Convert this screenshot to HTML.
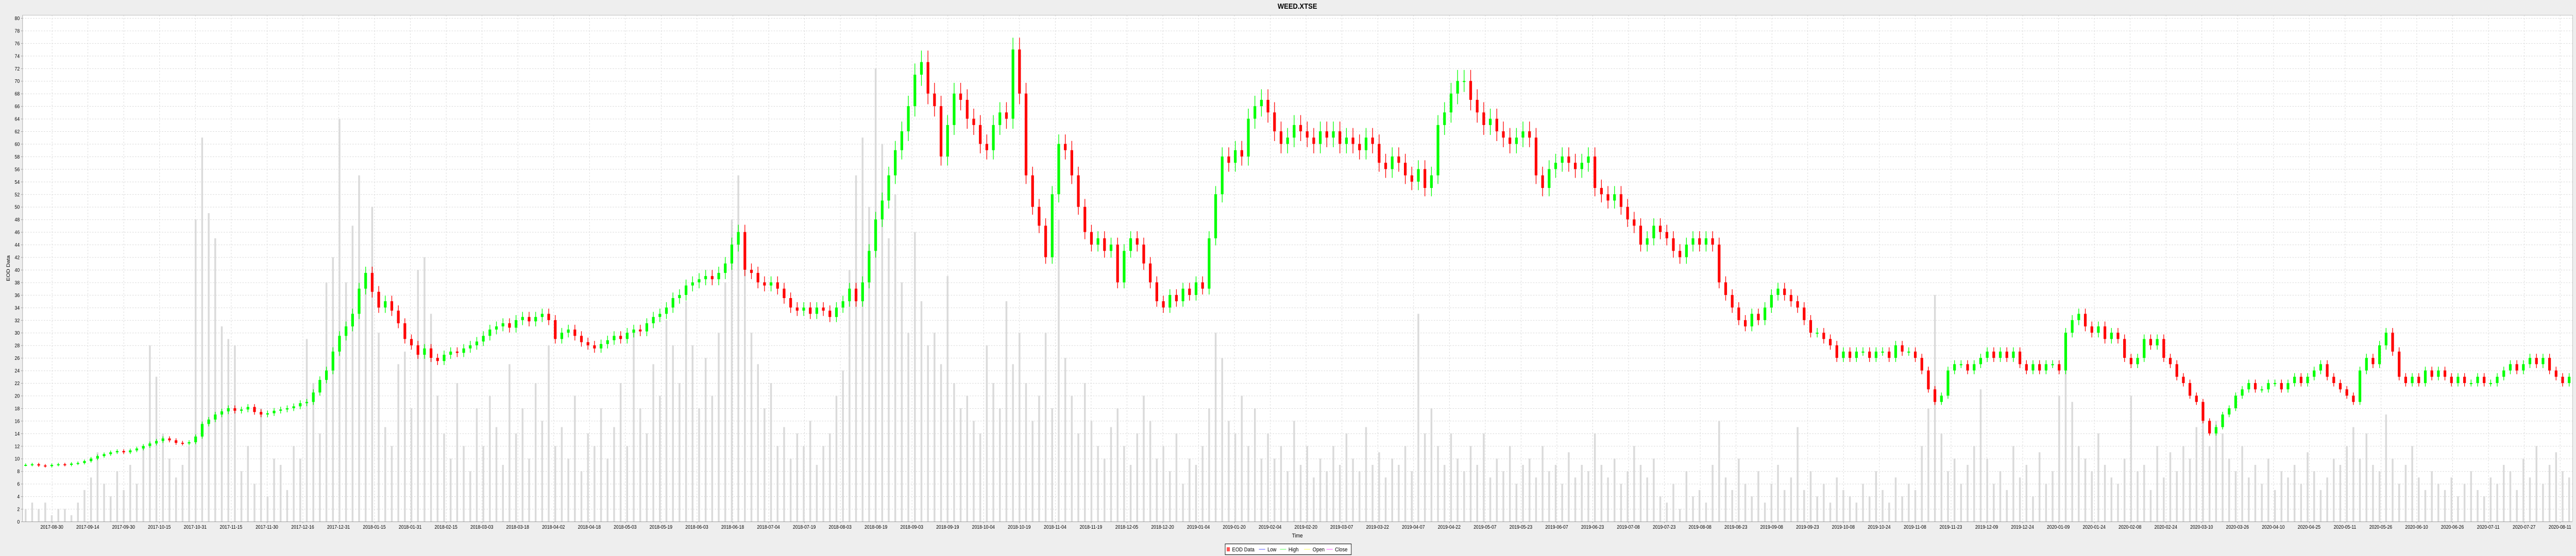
<!DOCTYPE html>
<html><head><meta charset="utf-8"><title>WEED.XTSE</title>
<style>
html,body{margin:0;padding:0;background:#eeeeee;width:100%;height:100%;overflow:hidden;}
body{font-family:"Liberation Sans",Arial,sans-serif;}
svg{display:block;position:absolute;left:0;top:0;width:100vw;height:100vh;}
</style></head>
<body>
<svg id="chart" viewBox="0 0 5760 1080" preserveAspectRatio="none" xmlns="http://www.w3.org/2000/svg">
  <rect x="0" y="0" width="5760" height="1080" fill="#eeeeee"/>
  <text x="2901" y="17" text-anchor="middle" font-size="15" font-weight="bold" fill="#000">WEED.XTSE</text>
  <rect x="50" y="29" width="5702" height="984" fill="#ffffff"/>
  <g id="grid"></g>
  <g id="vol"></g>
  <g id="candles"></g>
  <g id="axes"></g>
  <text x="0" y="0" transform="translate(22,521) rotate(-90)" text-anchor="middle" font-size="11" fill="#000">EOD Data</text>
  <text x="2901" y="1044" text-anchor="middle" font-size="11" fill="#000">Time</text>
  <g>
    <rect x="2739.5" y="1056.5" width="282" height="21" fill="#ffffff" stroke="#000"/>
    <rect x="2743" y="1063" width="7" height="8" fill="#ff5555"/>
    <text x="2755" y="1071" font-size="11">EOD Data</text>
    <line x1="2815" y1="1067" x2="2829" y2="1067" stroke="#5555ff"/>
    <text x="2834" y="1071" font-size="11">Low</text>
    <line x1="2862" y1="1067" x2="2876" y2="1067" stroke="#55ff55"/>
    <text x="2881" y="1071" font-size="11">High</text>
    <line x1="2916" y1="1067" x2="2930" y2="1067" stroke="#ffff55"/>
    <text x="2935" y="1071" font-size="11">Open</text>
    <line x1="2966" y1="1067" x2="2980" y2="1067" stroke="#ff55ff"/>
    <text x="2985" y="1071" font-size="11">Close</text>
  </g>
</svg>
<script>
var closes = [
9.0,9.1,8.9,8.8,9.0,9.1,9.0,9.2,9.3,9.6,
10.0,10.4,10.7,11.0,11.2,11.0,11.3,11.6,12.0,12.4,
12.8,13.2,12.9,12.5,12.4,12.6,13.5,15.5,16.2,17.0,
17.5,18.0,17.6,17.8,18.2,17.4,17.0,17.2,17.6,17.8,
18.0,18.3,18.8,19.0,20.5,22.5,24.0,27.0,29.5,31.0,
33.0,37.0,39.5,36.5,34.0,35.0,33.5,31.5,29.0,28.0,
26.5,27.5,26.0,25.5,26.5,27.0,26.8,27.5,28.0,28.6,
29.5,30.5,31.0,31.5,30.8,32.0,32.5,31.8,32.5,33.0,
32.0,29.0,30.0,30.5,29.5,28.5,28.0,27.5,28.2,28.8,
29.5,29.0,30.0,30.5,30.2,31.5,32.5,33.0,34.0,35.5,
36.0,37.5,38.0,38.5,39.0,38.5,39.5,41.0,44.0,46.0,
40.0,39.5,38.0,37.5,38.0,37.0,35.5,34.0,33.5,34.0,
33,34,33.5,32.5,34,35,37,35,38,43,
48,51,55,59,62,66,71,73,68,66,
58,63,68,67,64,63,60,59,63,65,
64,75,68,55,50,47,42,52,60,59,
55,50,46,44,45,43,44,38,43,45,
44,41,38,35,34,36,35,37,36,38,
37,45,52,58,57,59,58,64,66,67,
65,62,60,61,63,62,61,60,62,61,
62,60,61,60,59,61,60,57,56,58,
57,55,54,56,53,55,63,65,68,70,
70,67,65,63,64,62,61,60,61,62,
61,55,53,56,57,58,57,56,57,58,
53,52,51,52,50,48,47,44,45,47,
46,45,43,42,44,45,44,45,44,38,
36,34,32,31,33,32,34,36,37,36,
35,34,32,30,30,29,28,26,27,26,
27,27,26,27,27,26,28,27,27,26,
24,21,19,20,24,25,25,24,25,26,
27,26,27,26,27,25,24,25,24,25,
25,24,30,32,33,31,30,31,29,30,
29,26,25,26,29,28,29,26,25,23,
22,20,19,16,14,15,17,18,20,21,
22,21,21,22,22,21,22,23,22,23,
24,25,23,22,21,20,19,24,26,25,
28,30,27,23,22,23,22,24,23,24,
23,22,23,22,22,23,22,22,23,24,
25,24,25,26,25,26,24,23,22,23
];
var volumes = [
2,3,2,3,1,2,2,1,3,5,
7,11,6,4,8,5,9,6,12,28,
23,14,10,7,9,12,48,61,49,45,
31,29,28,8,12,6,18,4,10,9,
5,12,10,29,22,14,38,42,64,38,
47,55,38,50,30,15,12,25,27,18,
40,42,33,20,14,10,22,12,8,18,
12,20,15,9,25,14,18,10,22,16,
28,12,15,10,20,8,14,12,18,10,
15,22,12,30,18,14,25,20,32,28,
22,35,28,18,26,20,30,38,48,55,
42,30,25,18,22,12,15,10,14,12,
16,9,12,14,20,24,40,55,61,50,
72,60,45,52,38,30,46,35,28,30,
25,39,22,18,20,16,14,28,22,18,
35,25,30,22,16,20,30,18,48,26,
20,14,22,16,12,10,15,18,12,9,
14,20,16,10,12,8,14,6,10,9,
12,18,30,26,16,14,20,12,18,10,
14,10,12,8,16,9,12,7,10,8,
12,9,14,10,8,15,9,11,7,10,
9,12,8,33,14,18,12,9,14,10,
8,12,9,14,7,10,8,12,6,9,
10,7,12,8,9,6,11,7,9,8,
14,9,7,10,6,8,12,9,7,10,
4,3,6,2,8,4,5,3,9,16,
7,5,10,6,4,8,3,6,9,5,
7,15,5,8,4,6,3,7,5,4,
3,6,4,8,5,3,7,4,6,5,
12,18,36,14,8,10,6,9,12,21,
10,6,8,5,12,7,9,4,11,6,
8,20,25,19,12,10,8,14,9,7,
6,10,20,8,9,5,12,7,11,8,
12,10,15,18,12,16,14,10,8,12,
7,9,6,10,5,8,7,9,6,11,
8,5,7,10,9,12,15,10,14,9,
8,17,10,6,9,12,7,5,8,6,
5,7,4,6,8,5,4,7,6,9,
8,5,10,7,12,6,9,11,8,7
];
var yTicks = [0,2,4,6,8,10,12,14,16,18,20,22,24,26,28,30,32,34,36,38,40,42,44,46,48,50,52,54,56,58,60,62,64,66,68,70,72,74,76,78,80];
var tickStart = "2017-08-30";
var tickLabels = (function(){var out=[];var d0=new Date(tickStart+"T00:00:00Z");for(var k=0;k<=70;k++){var d=new Date(d0.getTime()+Math.round(k*1077/70)*86400000);out.push(d.toISOString().slice(0,10));}return out;})();

var NS="http://www.w3.org/2000/svg";
var L=50,R=5752,T=35,B=1013,TOP=29;
var yMin=0,yMax=80;
function yS(v){return B-(v-yMin)/(yMax-yMin)*(B-T);}
var n=closes.length;
var step=(R-L)/n;
function xS(i){return L+(i+0.5)*step;}
var tickX0=116,tickStep=(5724-116)/70;
function tx(k){return tickX0+k*tickStep;}
function mk(tag,attrs,parent){var e=document.createElementNS(NS,tag);for(var a in attrs)e.setAttribute(a,attrs[a]);parent.appendChild(e);return e;}

var grid=document.getElementById('grid');
yTicks.forEach(function(v){
  var ln=mk('line',{x1:L,x2:R,y1:yS(v)+0.5,y2:yS(v)+0.5,stroke:'#d8d8d8','stroke-dasharray':'3,3','stroke-width':1},grid);
  
  
});
tickLabels.forEach(function(lb,k){
  var ln=mk('line',{x1:tx(k)+0.5,x2:tx(k)+0.5,y1:TOP,y2:B,stroke:'#d8d8d8','stroke-dasharray':'3,3','stroke-width':1},grid);
  
  
});

var vol=document.getElementById('vol');
volumes.forEach(function(v,i){
  var r=mk('rect',{x:xS(i)-2,y:yS(v),width:4,height:B-yS(v),fill:'#dadada'},vol);
  
  
});

var cg=document.getElementById('candles');
closes.forEach(function(c,i){
  var o=i>0?closes[i-1]:c;
  var hi=Math.max(o,c)*1.025, lo=Math.min(o,c)*0.975;
  var col=c>=o?'#00ff00':'#ff0000';
  var x=xS(i);
  var w=mk('line',{x1:x,x2:x,y1:yS(hi),y2:yS(lo),stroke:col,'stroke-width':1.5},cg);
  
  
  var top=yS(Math.max(o,c)),bot=yS(Math.min(o,c));
  var b=mk('rect',{x:x-3,y:top,width:6,height:Math.max(2,bot-top),fill:col},cg);
  
  
});

var ax=document.getElementById('axes');
var al=mk('line',{x1:L+0.5,x2:L+0.5,y1:TOP,y2:B,stroke:'#a0a0a0'},ax);


var bl=mk('line',{x1:L,x2:R,y1:B+0.5,y2:B+0.5,stroke:'#a0a0a0'},ax);


var tl=mk('line',{x1:L,x2:R,y1:TOP+0.5,y2:TOP+0.5,stroke:'#c0c0c0'},ax);


var rl=mk('line',{x1:R+0.5,x2:R+0.5,y1:TOP,y2:B,stroke:'#c0c0c0'},ax);


yTicks.forEach(function(v){
  var t=mk('text',{x:L-6,y:yS(v)+4,'text-anchor':'end','font-size':'10',fill:'#000'},ax);
  t.textContent=String(v);
  
  
  var tk=mk('line',{x1:L-3,x2:L,y1:yS(v)+0.5,y2:yS(v)+0.5,stroke:'#a0a0a0'},ax);
  
  
});
tickLabels.forEach(function(lb,k){
  var t=mk('text',{x:tx(k),y:1027,'text-anchor':'middle','font-size':'10',fill:'#000'},ax);
  t.textContent=lb;
  
  
  var tk=mk('line',{x1:tx(k)+0.5,x2:tx(k)+0.5,y1:B,y2:B+3,stroke:'#a0a0a0'},ax);
  
  
});
</script>
</body></html>
